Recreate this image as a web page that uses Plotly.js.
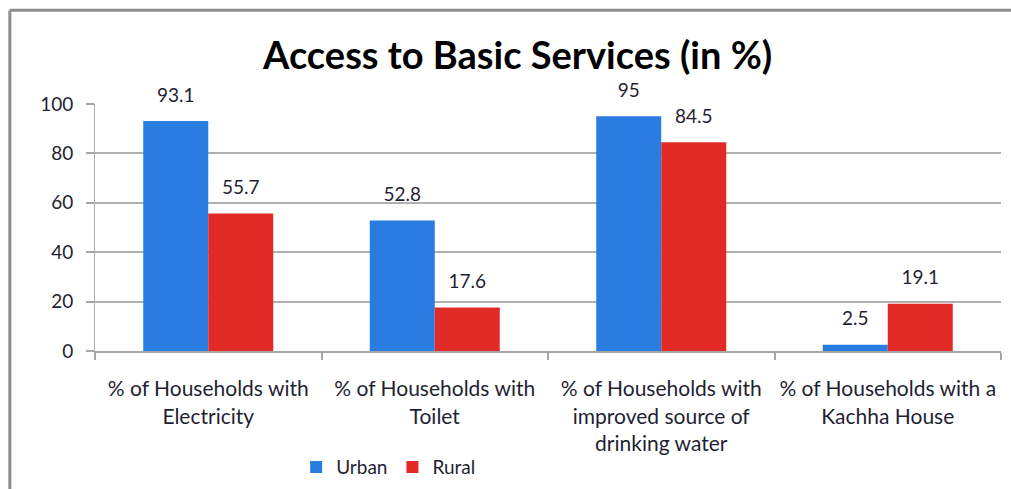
<!DOCTYPE html>
<html><head><meta charset="utf-8">
<script src="https://cdn.plot.ly/plotly-3.0.1.min.js"></script>
<style>html,body{margin:0;padding:0;background:#fff;}#chart{width:1011px;height:489px;}</style>
</head><body><div id="chart"></div>
<script>
const categories = [
  "% of Households with<br>Electricity",
  "% of Households with<br>Toilet",
  "% of Households with<br>improved source of<br>drinking water",
  "% of Households with a<br>Kachha House"
];
const urban = [93.1, 52.8, 95, 2.5];
const rural = [55.7, 17.6, 84.5, 19.1];
const seriesNames = ["Urban", "Rural"];
const seriesColors = ["#2b7ce0", "#e22b26"];
const yTicks = [0, 20, 40, 60, 80, 100];

const fam = "Lato, 'Open Sans', sans-serif";
const txtColor = "#1f1f33";
const labelFont = {family: fam, size: 19, color: txtColor};

const series = [urban, rural];
const traces = [];
series.forEach((vals, i) => {
  traces.push({type: "bar", name: seriesNames[i], x: categories, y: vals,
               marker: {color: seriesColors[i]}, offsetgroup: String(i)});
});
series.forEach((vals, i) => {
  traces.push({type: "scatter", mode: "markers+text", x: categories, y: vals, offsetgroup: String(i),
               text: vals.map(String), textposition: "top center", textfont: labelFont,
               marker: {size: 22, color: "rgba(0,0,0,0)"}, showlegend: false, hoverinfo: "skip",
               cliponaxis: false});
});

const layout = {
  width: 1011, height: 489,
  margin: {l: 95, r: 10, t: 104, b: 138, autoexpand: false},
  paper_bgcolor: "#fff", plot_bgcolor: "#fff",
  font: labelFont,
  title: {text: "<b>Access to Basic Services (in %)</b>", x: 0.512, xanchor: "center",
          y: 0.887, yanchor: "middle", yref: "container",
          font: {family: fam, size: 38, color: "#000"}},
  barmode: "group", bargap: 0.426, bargroupgap: 0,
  scattermode: "group", scattergap: 0.426,
  xaxis: {type: "category", automargin: false, showline: true, linecolor: "#a6a6a6", linewidth: 2,
          ticks: "outside", tickson: "boundaries", ticklen: 7, tickcolor: "#a6a6a6", tickwidth: 2,
          ticklabelstandoff: 18, tickangle: 0,
          tickfont: {family: fam, size: 21, color: txtColor}, showgrid: false},
  yaxis: {range: [0, 100], automargin: false, tickvals: yTicks, showgrid: true, gridcolor: "#b0b0b0", gridwidth: 2,
          showline: true, linecolor: "#b8a8a8", linewidth: 1, ticks: "outside", ticklen: 8,
          tickcolor: "#a6a6a6", tickwidth: 2, tickfont: {family: fam, size: 19, color: txtColor},
          ticklabelstandoff: 9, zeroline: false, fixedrange: true},
  showlegend: true,
  legend: {orientation: "h", x: 0.222, xanchor: "left", y: -0.47, yanchor: "middle",
           font: {family: fam, size: 19, color: txtColor}, bgcolor: "rgba(0,0,0,0)"},
  shapes: [
    {type: "line", xref: "paper", yref: "paper", x0: -0.094, x1: 1.02, y0: 1.38, y1: 1.38,
     line: {color: "#8c8c8c", width: 3}},
    {type: "line", xref: "paper", yref: "paper", x0: -0.094, x1: -0.094, y0: 1.38, y1: -0.6,
     line: {color: "#8c8c8c", width: 3}}
  ]
};
Plotly.newPlot("chart", traces, layout, {displayModeBar: false, staticPlot: true});
</script></body></html>
